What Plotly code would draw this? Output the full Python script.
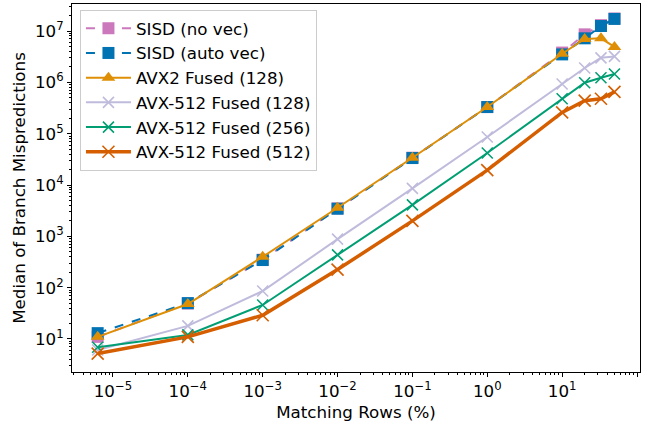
import plotly.graph_objects as go

x = [6.25e-6, 1e-4, 1e-3, 1e-2, 1e-1, 1, 10, 20, 33, 50]

sisd_novec = [11, 49, 350, 3500, 34000, 330000, 3.8e6, 8.6e6, 1.3e7, 1.75e7]
sisd_autovec = [13, 50, 345, 3450, 33500, 330000, 3.5e6, 7.2e6, 1.25e7, 1.72e7]
avx2_128 = [11, 48, 400, 3600, 34000, 330000, 3.6e6, 7.0e6, 7.2e6, 4.9e6]
avx512_128 = [6.1, 18, 86, 880, 8600, 86000, 9.3e5, 1.9e6, 3.0e6, 3.2e6]
avx512_256 = [6.9, 12, 46, 435, 4100, 42000, 4.8e5, 9.8e5, 1.23e6, 1.45e6]
avx512_512 = [5.2, 11, 29, 225, 2000, 19500, 2.6e5, 4.4e5, 4.8e5, 6.5e5]

xtick_vals = [1e-5, 1e-4, 1e-3, 1e-2, 1e-1, 1, 10, 100]
xtick_text = ["10<sup>−5</sup>", "10<sup>−4</sup>", "10<sup>−3</sup>", "10<sup>−2</sup>",
              "10<sup>−1</sup>", "10<sup>0</sup>", "10<sup>1</sup>", "10<sup>2</sup>"]
ytick_vals = [10, 100, 1e3, 1e4, 1e5, 1e6, 1e7]
ytick_text = ["10<sup>1</sup>", "10<sup>2</sup>", "10<sup>3</sup>", "10<sup>4</sup>",
              "10<sup>5</sup>", "10<sup>6</sup>", "10<sup>7</sup>"]

series = [
    ("SISD (no vec)", sisd_novec, "#cc78bc", "dash", 2, "square", 12),
    ("SISD (auto vec)", sisd_autovec, "#0173b2", "dash", 2, "square", 12),
    ("AVX2 Fused (128)", avx2_128, "#de8f05", "solid", 2, "triangle-up", 12),
    ("AVX-512 Fused (128)", avx512_128, "#bfbbdc", "solid", 2, "x-thin", 11),
    ("AVX-512 Fused (256)", avx512_256, "#029e73", "solid", 2, "x-thin", 11),
    ("AVX-512 Fused (512)", avx512_512, "#d55e00", "solid", 3.5, "x-thin", 12),
]

FS = 16.7

fig = go.Figure()
for i, (name, ys, color, dash, lw, sym, size) in enumerate(series):
    if sym == "x-thin":
        marker = dict(symbol=sym, size=size, color=color, line=dict(color=color, width=1.6))
    else:
        marker = dict(symbol=sym, size=size, color=color, line=dict(width=0))
    fig.add_trace(go.Scatter(x=x, y=ys, name=name, mode="lines+markers",
                             legendgroup=f"g{i}",
                             line=dict(color=color, width=lw, dash=dash),
                             marker=marker))

axis_common = dict(type="log", showgrid=False, zeroline=False, showline=True,
                   linecolor="black", linewidth=1, mirror=True, ticks="outside",
                   ticklen=4, tickcolor="black",
                   tickfont=dict(family="DejaVu Sans", size=FS, color="black"),
                   minor=dict(ticks="outside", ticklen=2, tickcolor="black", dtick="D1", showgrid=False))

fig.update_xaxes(range=[-5.547, 2.04], tickvals=xtick_vals, ticktext=xtick_text,
                 title=dict(text="Matching Rows (%)", font=dict(family="DejaVu Sans", size=FS, color="black"), standoff=6),
                 **axis_common)
fig.update_yaxes(range=[0.357, 7.526], tickvals=ytick_vals, ticktext=ytick_text,
                 title=dict(text="Median of Branch Mispredictions", font=dict(family="DejaVu Sans", size=FS, color="black"), standoff=5),
                 **axis_common)

fig.update_layout(
    width=649, height=433,
    margin=dict(l=72, r=9, t=4, b=61),
    plot_bgcolor="white", paper_bgcolor="white",
    font=dict(family="DejaVu Sans", size=FS, color="black"),
    legend=dict(x=0.014, y=0.984, xanchor="left", yanchor="top",
                bgcolor="rgba(255,255,255,0.8)", bordercolor="#cccccc", borderwidth=1,
                font=dict(family="DejaVu Sans", size=FS, color="black"),
                itemwidth=45, tracegroupgap=0, traceorder="grouped"),
)

fig.write_html("out.html")
